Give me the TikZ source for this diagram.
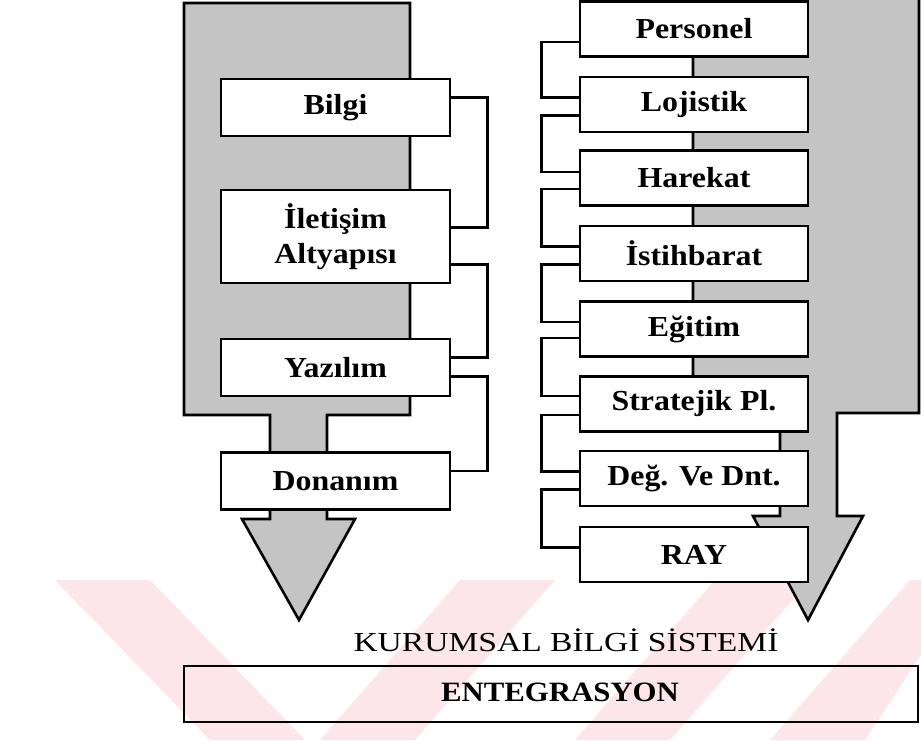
\documentclass[tikz,border=0pt]{standalone}
\usepackage{fontspec}
\setmainfont{Liberation Serif}
\newfontfamily\lblfont{Liberation Serif}[FakeStretch=1.1]
\newfontfamily\capfont{Liberation Serif}[FakeStretch=1.22]
\definecolor{shade}{gray}{0.77}
\definecolor{wmark}{RGB}{252,230,233}
\begin{document}
\begin{tikzpicture}[x=1pt,y=-1pt,
  outline/.style={line width=2.6pt,line join=miter},
  panel/.style={outline,draw=black,fill=shade},
  lbox/.style={outline,draw=black,fill=white,minimum width=229pt,minimum height=57pt,
    inner sep=0pt,font=\lblfont\bfseries\fontsize{29}{35}\selectfont,align=center},
  rbox/.style={lbox,minimum width=228pt,minimum height=55pt},
  link/.style={outline,draw=black}]
\useasboundingbox (0,0) rectangle (921,740);

% pale background bands
\fill[wmark] (55,580) -- (150,580) -- (305,740) -- (210,740) -- cycle;
\fill[wmark] (320,740) -- (460,580) -- (555,580) -- (415,740) -- cycle;
\fill[wmark] (575,740) -- (715,580) -- (810,580) -- (670,740) -- cycle;
\fill[wmark] (770,740) -- (910,580) -- (921,580) -- (921,655) -- (865,740) -- cycle;

% shaded flow panels ending in arrow heads
\path[panel] (184,3) -- (410,3) -- (410,415) -- (327,415) -- (327,519) -- (355,519)
  -- (299,620) -- (242,519) -- (270,519) -- (270,415) -- (184,415) -- cycle;
\path[panel] (693,-3) -- (919,-3) -- (919,413) -- (837,413) -- (837,516) -- (863,516)
  -- (808,620) -- (753,516) -- (780,516) -- (780,413) -- (693,413) -- cycle;

% left column
\node[lbox] (bilgi) at (335.5,107.5) {Bilgi};
\node[lbox,minimum height=93pt] (ilet) at (335.5,236.5) {İletişim\\Altyapısı};
\node[lbox] (yaz) at (335.5,367.5) {Yazılım};
\node[lbox] (don) at (335.5,481) {Donanım};

% right column
\node[rbox] (per) at (694,29) {Personel};
\node[rbox] (loj) at (694,104.5) {Lojistik};
\node[rbox] (har) at (694,178) {Harekat};
\node[rbox] (ist) at (694,253.5) {İstihbarat};
\node[rbox] (egi) at (694,329) {Eğitim};
\node[rbox] (str) at (694,404) {Stratejik Pl.};
\node[rbox] (deg) at (694,478.5) {Değ. Ve Dnt.};
\node[rbox] (ray) at (694,554.5) {RAY};

% brackets on the left column
\draw[link] ([yshift=10pt]bilgi.east) -- ++(36,0) |- ([yshift=9pt]ilet.east);
\draw[link] ([yshift=-28pt]ilet.east) -- ++(36,0) |- ([yshift=10pt]yaz.east);
\draw[link] ([yshift=-9pt]yaz.east) -- ++(36,0) |- ([yshift=10pt]don.east);

% brackets on the right column
\draw[link] ([yshift=-13pt]per.west) -- ++(-37,0) |- ([yshift=7pt]loj.west);
\draw[link] ([yshift=-11pt]loj.west) -- ++(-37,0) |- ([yshift=6pt]har.west);
\draw[link] ([yshift=-11pt]har.west) -- ++(-37,0) |- ([yshift=7pt]ist.west);
\draw[link] ([yshift=-11pt]ist.west) -- ++(-37,0) |- ([yshift=7pt]egi.west);
\draw[link] ([yshift=-9pt]egi.west) -- ++(-37,0) |- ([yshift=8pt]str.west);
\draw[link] ([yshift=-11pt]str.west) -- ++(-37,0) |- ([yshift=7pt]deg.west);
\draw[link] ([yshift=-11pt]deg.west) -- ++(-37,0) |- ([yshift=7pt]ray.west);

% title and bottom bar
\node[font=\capfont\fontsize{27.5}{30}\selectfont] (title) at (566,640) {KURUMSAL BİLGİ SİSTEMİ};
\node[outline,draw=black,minimum width=734pt,minimum height=56pt,inner sep=0pt] (bar) at (551,694) {};
\node[font=\lblfont\bfseries\fontsize{28}{30}\selectfont] (ent) at (560,692) {ENTEGRASYON};
\end{tikzpicture}
\end{document}
